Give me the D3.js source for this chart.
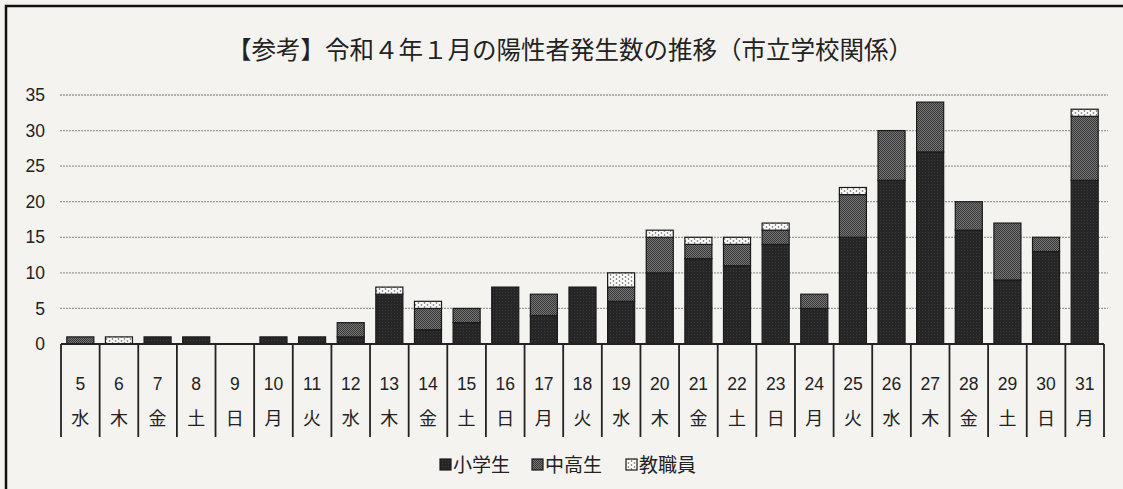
<!DOCTYPE html>
<html><head><meta charset="utf-8">
<script src="https://cdn.jsdelivr.net/npm/d3@7"></script>
<style>
html,body{margin:0;padding:0;background:#f4f3ef;}
svg{display:block;}
</style></head>
<body>
<svg id="chart" width="1123" height="489"></svg>
<script>
const days = [5,6,7,8,9,10,11,12,13,14,15,16,17,18,19,20,21,22,23,24,25,26,27,28,29,30,31];
const weekdays = ["水","木","金","土","日","月","火","水","木","金","土","日","月","火","水","木","金","土","日","月","火","水","木","金","土","日","月"];
const elementary = [0,0,1,1,0,1,1,1,7,2,3,8,4,8,6,10,12,11,14,5,15,23,27,16,9,13,23];
const secondary  = [1,0,0,0,0,0,0,2,0,3,2,0,3,0,2,5,2,3,2,2,6,7,7,4,8,2,9];
const staff      = [0,1,0,0,0,0,0,0,1,1,0,0,0,0,2,1,1,1,1,0,1,0,0,0,0,0,1];
const seriesNames = ["小学生","中高生","教職員"];
const yTicks = [0,5,10,15,20,25,30,35];
const title = "【参考】令和４年１月の陽性者発生数の推移（市立学校関係）";

const svg = d3.select("#chart");
const defs = svg.append("defs");
const p1 = defs.append("pattern").attr("id","pElem").attr("width",3).attr("height",3).attr("patternUnits","userSpaceOnUse");
p1.append("rect").attr("width",3).attr("height",3).attr("fill","#262626");
p1.append("rect").attr("x",1).attr("y",1).attr("width",1).attr("height",1).attr("fill","#3a3a3a");
const p2 = defs.append("pattern").attr("id","pSec").attr("width",2).attr("height",2).attr("patternUnits","userSpaceOnUse");
p2.append("rect").attr("width",2).attr("height",2).attr("fill","#757575");
p2.append("rect").attr("width",1).attr("height",1).attr("fill","#383838");
p2.append("rect").attr("x",1).attr("y",1).attr("width",1).attr("height",1).attr("fill","#383838");
const p3 = defs.append("pattern").attr("id","pStaff").attr("width",6).attr("height",4).attr("patternUnits","userSpaceOnUse");
p3.append("rect").attr("width",6).attr("height",4).attr("fill","#fbfbfa");
p3.append("circle").attr("cx",1.5).attr("cy",1).attr("r",0.8).attr("fill","#555");
p3.append("circle").attr("cx",4.5).attr("cy",3).attr("r",0.8).attr("fill","#555");
const fills = ["url(#pElem)","url(#pSec)","url(#pStaff)"];

svg.append("rect").attr("x",6).attr("y",6).attr("width",1140).attr("height",520)
  .attr("fill","none").attr("stroke","#111").attr("stroke-width",2.5);

const x = d3.scaleBand().domain(days).range([61,1104]).paddingInner(0.3).paddingOuter(0.15);
const xBox = d3.scaleBand().domain(days).range([61,1104]).padding(0);
const y = d3.scaleLinear().domain([0,35]).range([344,95]);

svg.append("g").selectAll("line").data(yTicks.filter(d=>d>0)).join("line")
  .attr("x1",60).attr("x2",1108).attr("y1",d=>y(d)).attr("y2",d=>y(d))
  .attr("stroke","#9a9a9a").attr("stroke-width",1.3).attr("stroke-dasharray","2,1");

const yAxis = d3.axisLeft(y).tickValues(yTicks).tickSize(0).tickPadding(0);
const gy = svg.append("g").attr("transform","translate(45,0)").call(yAxis);
gy.select(".domain").remove();
gy.selectAll("text").attr("font-family","'Liberation Sans',Arial,sans-serif").attr("font-size",17.5).attr("fill","#222");

const rows = days.map((d,i)=>({day:d, v:[elementary[i],secondary[i],staff[i]]}));
const stack = d3.stack().keys([0,1,2]).value((r,k)=>r.v[k]);
const stacked = stack(rows);
svg.append("g").selectAll("g").data(stacked).join("g")
  .attr("fill",(s,i)=>fills[i])
  .selectAll("rect").data(s=>s.filter(p=>p[1]-p[0]>0)).join("rect")
  .attr("x",p=>x(p.data.day)).attr("width",x.bandwidth())
  .attr("y",p=>y(p[1])).attr("height",p=>y(p[0])-y(p[1]))
  .attr("stroke","#1a1a1a").attr("stroke-width",1.2);

const tbl = svg.append("g").attr("stroke","#222").attr("stroke-width",1.8);
tbl.append("line").attr("x1",61).attr("x2",1104).attr("y1",y(0)).attr("y2",y(0));
const bounds = days.map(d=>xBox(d)).concat([xBox(days[days.length-1])+xBox.bandwidth()]);
tbl.selectAll("line.v").data(bounds).join("line").attr("class","v")
  .attr("x1",d=>d).attr("x2",d=>d).attr("y1",y(0)).attr("y2",437);

const gx = svg.append("g");
gx.selectAll("text.day").data(days).join("text").attr("class","day")
  .attr("x",d=>xBox(d)+xBox.bandwidth()/2).attr("y",390).attr("text-anchor","middle")
  .attr("font-family","'Liberation Sans',Arial,sans-serif").attr("font-size",17.5).attr("fill","#222")
  .text(d=>d);
gx.selectAll("text.wd").data(days).join("text").attr("class","wd")
  .attr("x",d=>xBox(d)+xBox.bandwidth()/2).attr("y",425).attr("text-anchor","middle")
  .attr("font-family","'Noto Sans CJK JP',sans-serif").attr("font-size",18).attr("fill","#222")
  .text((d,i)=>weekdays[i]);

svg.append("text").attr("x",570).attr("y",59).attr("text-anchor","middle")
  .attr("font-family","'Noto Sans CJK JP',sans-serif").attr("font-size",24.5).attr("fill","#222")
  .text(title);

const legendX = [440,532,626];
const lg = svg.append("g");
seriesNames.forEach((n,i)=>{
  lg.append("rect").attr("x",legendX[i]).attr("y",459).attr("width",11).attr("height",11)
    .attr("fill",fills[i]).attr("stroke","#1a1a1a").attr("stroke-width",1.2);
  lg.append("text").attr("x",legendX[i]+13).attr("y",472)
    .attr("font-family","'Noto Sans CJK JP',sans-serif").attr("font-size",19).attr("fill","#222").text(n);
});
</script>
</body></html>
